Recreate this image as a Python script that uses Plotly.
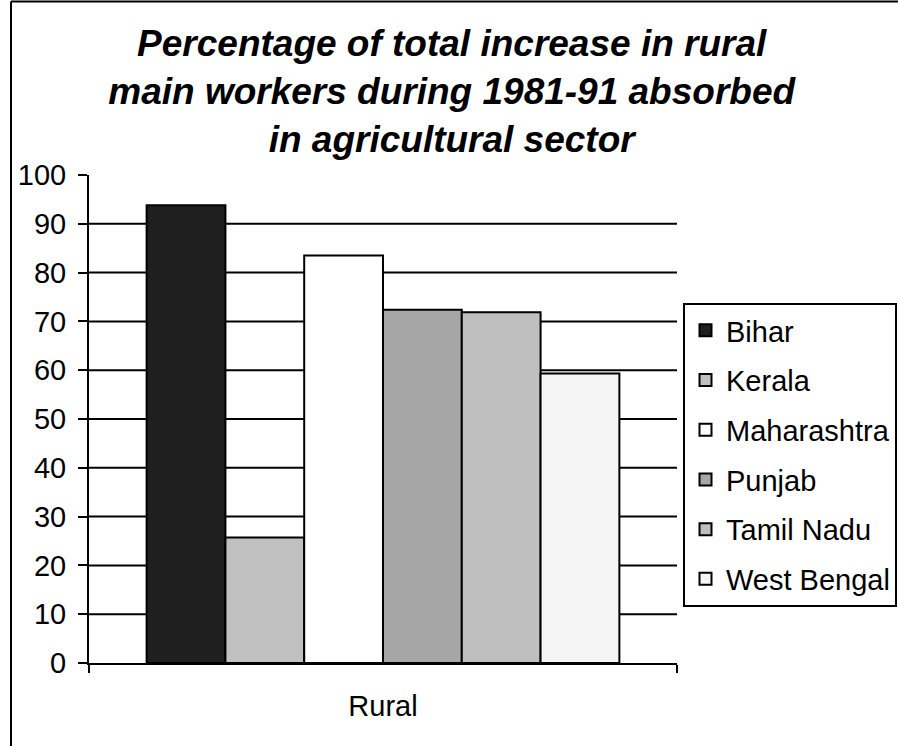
import plotly.graph_objects as go

# ---- data ----
categories = ["Rural"]
states = ["Bihar", "Kerala", "Maharashtra", "Punjab", "Tamil Nadu", "West Bengal"]
values = [93.8, 25.7, 83.5, 72.4, 71.9, 59.3]
colors = ["#1f1f1f", "#c0c0c0", "#ffffff", "#a6a6a6", "#bfbfbf", "#f5f5f5"]
y_ticks = [0, 10, 20, 30, 40, 50, 60, 70, 80, 90, 100]
grid_vals = [10, 20, 30, 40, 50, 60, 70, 80, 90]

FONT = "Liberation Sans, Arial, sans-serif"

W, H = 898, 746
L, R, T, B = 89, 221, 175, 83
pw, ph = W - L - R, H - T - B

fig = go.Figure()
for i, (s, v, c) in enumerate(zip(states, values, colors)):
    fig.add_trace(go.Bar(
        x=categories, y=[v], name=s,
        marker=dict(color=c, line=dict(color="black", width=2)),
        legendgroup=s,
    ))

shapes = []
for g in grid_vals:
    shapes.append(dict(type="line", xref="paper", yref="y", x0=0, x1=1, y0=g, y1=g,
                       line=dict(color="black", width=2), layer="below"))
# outer chart frame (left and top edges visible)
fx = (11 - L) / pw
fy = (H - B - 1.5) / ph
shapes.append(dict(type="line", xref="paper", yref="paper", x0=fx, x1=fx, y0=fy, y1=-0.5,
                   line=dict(color="black", width=2)))
shapes.append(dict(type="line", xref="paper", yref="paper", x0=fx, x1=2, y0=fy, y1=fy,
                   line=dict(color="black", width=2)))

fig.update_layout(
    width=W, height=H,
    margin=dict(l=L, r=R, t=T, b=B, autoexpand=False),
    paper_bgcolor="white", plot_bgcolor="white",
    barmode="group", bargap=0.196, bargroupgap=0,
    font=dict(family=FONT, size=29, color="black"),
    title=dict(
        text="<b><i>Percentage of total increase in rural<br>main workers during 1981-91 absorbed<br>in agricultural sector</i></b>",
        x=0.503, xref="container", xanchor="center",
        y=1 - 56 / H, yref="container", yanchor="top",
        font=dict(family=FONT, size=37, color="black"),
    ),
    xaxis=dict(
        type="category", range=[-0.5, 0.5],
        showline=True, linecolor="black", linewidth=2,
        ticks="outside", tickson="boundaries", ticklen=8, tickwidth=2, tickcolor="black",
        showgrid=False, zeroline=False,
        tickfont=dict(family=FONT, size=29, color="black"),
        ticklabelstandoff=16,
    ),
    yaxis=dict(
        range=[0, 100], tickvals=y_ticks,
        showline=True, linecolor="black", linewidth=2,
        ticks="outside", ticklen=9, tickwidth=2, tickcolor="black",
        showgrid=False, zeroline=False,
        tickfont=dict(family=FONT, size=29, color="black"),
        ticklabelstandoff=6,
    ),
    legend=dict(
        xref="container", x=683 / W, xanchor="left",
        yref="container", y=1 - 303 / H, yanchor="top",
        bordercolor="black", borderwidth=2, bgcolor="white",
        font=dict(family=FONT, size=29, color="black"),
        tracegroupgap=9, traceorder="grouped", itemwidth=31,
    ),
    shapes=shapes,
    showlegend=True,
)

fig.write_html("out.html")
